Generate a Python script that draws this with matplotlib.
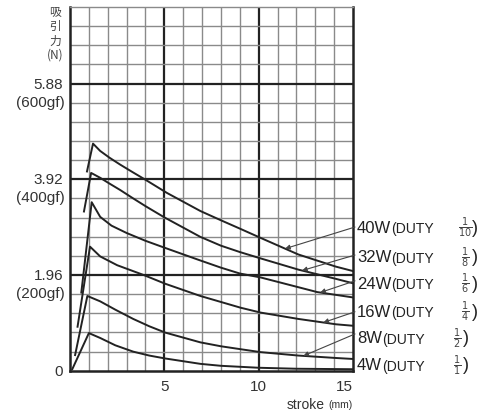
import numpy as np
import matplotlib.pyplot as plt

plt.rcParams['font.family'] = ['Liberation Sans', 'DejaVu Sans']

# attraction force (N) vs stroke (mm)
x_40w = [0.9, 1.22, 1.6, 2.1, 2.66, 3.3, 4.0, 5.14, 6.91, 8.0, 9.0, 10.1, 12.1, 14.1, 15.0]
y_40w = [4.08, 4.65, 4.50, 4.36, 4.22, 4.07, 3.91, 3.64, 3.27, 3.08, 2.91, 2.72, 2.38, 2.13, 2.04]
x_32w = [0.74, 1.12, 1.6, 2.1, 2.66, 3.3, 4.0, 5.0, 6.91, 8.0, 9.0, 10.1, 12.1, 14.1, 15.0]
y_32w = [3.26, 4.05, 3.95, 3.83, 3.70, 3.54, 3.37, 3.14, 2.74, 2.56, 2.43, 2.30, 2.07, 1.88, 1.79]
x_24w = [0.6, 1.15, 1.6, 2.2, 3.0, 4.0, 5.0, 6.74, 8.0, 9.0, 10.1, 12.1, 13.1, 15.0]
y_24w = [1.6, 3.45, 3.15, 2.97, 2.82, 2.66, 2.52, 2.28, 2.11, 1.99, 1.91, 1.71, 1.61, 1.50]
x_16w = [0.4, 1.06, 1.6, 2.5, 3.9, 5.05, 6.91, 9.04, 10.1, 12.1, 14.1, 15.0]
y_16w = [0.9, 2.54, 2.34, 2.16, 1.96, 1.78, 1.53, 1.29, 1.19, 1.06, 0.95, 0.92]
x_8w = [0.27, 0.92, 1.6, 2.4, 3.35, 4.2, 5.05, 6.91, 8.0, 9.04, 10.1, 12.1, 14.1, 15.0]
y_8w = [0.32, 1.53, 1.42, 1.25, 1.06, 0.91, 0.78, 0.58, 0.50, 0.44, 0.38, 0.31, 0.26, 0.24]
x_4w = [0.12, 1.0, 1.6, 2.4, 3.35, 4.2, 5.05, 6.91, 8.0, 10.0, 12.0, 15.0]
y_4w = [0.03, 0.77, 0.67, 0.52, 0.39, 0.31, 0.25, 0.14, 0.10, 0.06, 0.04, 0.03]

watts = ["40W", "32W", "24W", "16W", "8W", "4W"]
duty = [r"$\frac{1}{10}$", r"$\frac{1}{8}$", r"$\frac{1}{6}$",
        r"$\frac{1}{4}$", r"$\frac{1}{2}$", r"$\frac{1}{1}$"]
arrow_stroke = [11.4, 12.3, 13.26, 13.43, 12.37, None]

y_ticks = [0, 1.96, 3.92, 5.88]
y_tick_gf = ["", "(200gf)", "(400gf)", "(600gf)"]
x_ticks = [5, 10, 15]

curves = [(x_40w, y_40w), (x_32w, y_32w), (x_24w, y_24w),
          (x_16w, y_16w), (x_8w, y_8w), (x_4w, y_4w)]

fig = plt.figure(figsize=(4.94, 4.14), dpi=100)
ax = fig.add_axes([0.1417, 0.1022, 0.5729, 0.8785])
step = 0.392
ymax = 19 * step
ax.set_xlim(0, 15)
ax.set_ylim(0, ymax)

# grid paper
for i in range(1, 15):
    heavy = i % 5 == 0
    ax.axvline(i, color='#222' if heavy else '#8a8a8a', lw=1.6 if heavy else 1.0, zorder=1)
for k in range(1, 19):
    heavy = k % 5 == 0
    ax.axhline(k * step, color='#222' if heavy else '#8a8a8a', lw=1.6 if heavy else 1.0, zorder=1)
for side in ['left', 'bottom', 'right']:
    ax.spines[side].set_linewidth(1.8)
    ax.spines[side].set_color('#222')
ax.spines['top'].set_linewidth(1.0)
ax.spines['top'].set_color('#8a8a8a')

for xs, ys in curves:
    ax.plot(xs, ys, color='#222', lw=1.4, zorder=3)

# ticks
ax.set_xticks(x_ticks)
ax.set_xticklabels([str(t) for t in x_ticks], fontsize=11, color='#333')
ax.get_xticklabels()[-1].set_horizontalalignment('right')
ax.tick_params(axis='x', length=0, pad=6)
ax.set_yticks([])
for v, gf in zip(y_ticks, y_tick_gf):
    ax.annotate(f"{v:g}" if v else "0", xy=(0, v), xytext=(-5, 0), textcoords='offset points',
                ha='right', va='center', fontsize=11, color='#333', annotation_clip=False)
    if gf:
        ax.annotate(gf, xy=(0, v), xytext=(-4, -13), textcoords='offset points',
                    ha='right', va='center', fontsize=11, color='#333', annotation_clip=False)

fig.text(0.7146, 0.022, "(mm)", ha='right', va='center', fontsize=7.5, color='#333')
fig.text(0.657, 0.022, "stroke", ha='right', va='center', fontsize=10, color='#333')
fig.text(0.111, 0.987, "吸\n引\n力\n(N)", ha='center', va='top', fontsize=8.5,
         linespacing=1.15, color='#444', family=['Noto Sans CJK JP', 'DejaVu Sans'])

# right-hand labels with arrows
label_y = [0.395, 0.3126, 0.2411, 0.1641, 0.0899, 0.0157]
tail_y = [0.395, 0.318, 0.247, 0.162, 0.101, None]
for i, (w, d, s) in enumerate(zip(watts, duty, arrow_stroke)):
    ly = label_y[i]
    two = len(w) == 3
    ax.text(1.0141, ly, w, transform=ax.transAxes, ha='left', va='center',
            fontsize=12, color='#222')
    ax.text(1.1343 if two else 1.1025, ly - 0.004, "(DUTY", transform=ax.transAxes,
            ha='left', va='center', fontsize=10, color='#222')
    ax.text(1.3958 if two else 1.3675, ly, d, transform=ax.transAxes, ha='center',
            va='center', fontsize=10, color='#444')
    ax.text(1.431 if two else 1.399, ly, ")", transform=ax.transAxes, ha='center',
            va='center', fontsize=13, color='#222')
    if s is not None:
        xs, ys = curves[i]
        ax.annotate("", xy=(s, np.interp(s, xs, ys)), xycoords='data',
                    xytext=(1.007, tail_y[i]), textcoords='axes fraction',
                    arrowprops=dict(arrowstyle='-|>', color='#444', lw=0.8,
                                    mutation_scale=7, shrinkA=0, shrinkB=0),
                    annotation_clip=False)

fig.savefig("out.png", dpi=100)
